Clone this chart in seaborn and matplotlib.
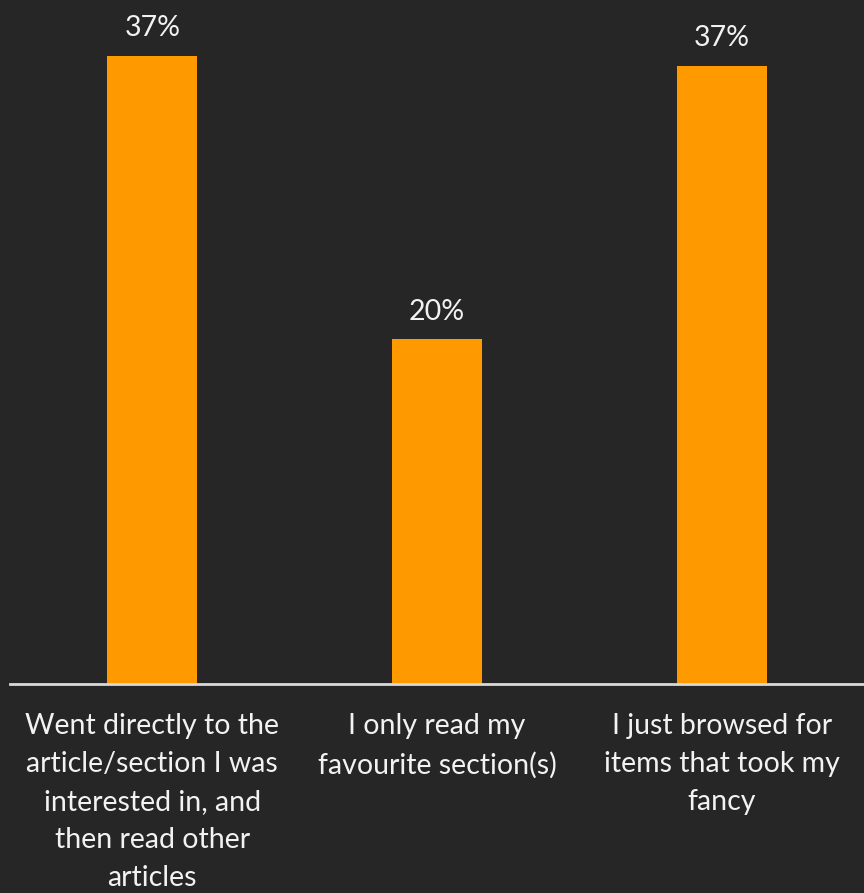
import matplotlib
matplotlib.use("Agg")
import matplotlib.pyplot as plt
import seaborn as sns
import pandas as pd

categories = [
    "Went directly to the\narticle/section I was\ninterested in, and\nthen read other\narticles",
    "I only read my\nfavourite section(s)",
    "I just browsed for\nitems that took my\nfancy",
]
shares = [37.2, 20.4, 36.6]

BG = "#262626"
BAR = "#FF9900"
TEXT = "#F2F2F2"

sns.set_theme(style="dark")
plt.rcParams["font.family"] = ["Lato", "DejaVu Sans"]

df = pd.DataFrame({"category": categories, "share": shares})

fig = plt.figure(figsize=(8.64, 8.93), dpi=100, facecolor=BG)
ax = fig.add_axes([10 / 864, (893 - 684) / 893, 854 / 864, 684 / 893])
ax.set_facecolor(BG)

sns.barplot(data=df, x="category", y="share", color=BAR, width=0.316,
            saturation=1, linewidth=0, edgecolor=BAR, ax=ax)

ax.set_xlim(-0.5, 2.5)
ax.set_ylim(0, 40.5)

for i, v in enumerate(shares):
    ax.annotate(f"{v:.0f}%", (i, v), xytext=(0, 20), textcoords="offset points",
                ha="center", va="center", color=TEXT, fontsize=20.5)

ax.set_xlabel("")
ax.set_ylabel("")
ax.set_yticks([])
ax.tick_params(axis="x", length=0, pad=21, labelsize=20.5, labelcolor=TEXT)
for lbl in ax.get_xticklabels():
    lbl.set_linespacing(1.57)

for side in ["top", "left", "right"]:
    ax.spines[side].set_visible(False)
ax.spines["bottom"].set_color("#D9D9D9")
ax.spines["bottom"].set_linewidth(2)
ax.grid(False)

fig.savefig("out.png", dpi=100, facecolor=BG)
